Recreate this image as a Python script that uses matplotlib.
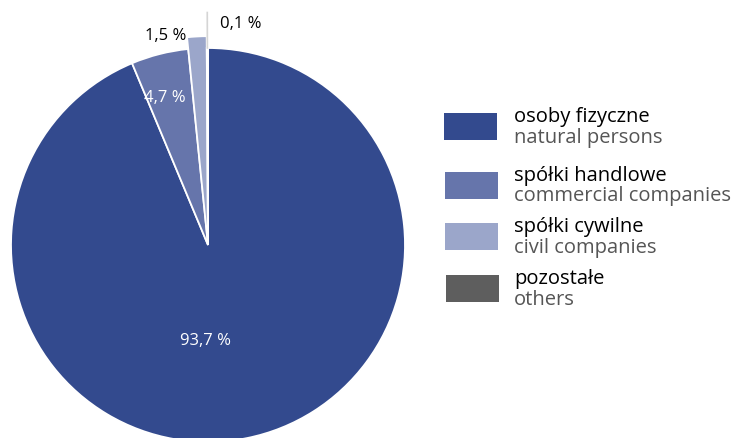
import numpy as np
import matplotlib
matplotlib.use("Agg")
import matplotlib.pyplot as plt
from matplotlib.patches import Rectangle

# data
labels_pl = ["osoby fizyczne", "spółki handlowe", "spółki cywilne", "pozostałe"]
labels_en = ["natural persons", "commercial companies", "civil companies", "others"]
shares = [93.7, 4.7, 1.5, 0.1]
share_text = ["93,7 %", "4,7 %", "1,5 %", "0,1 %"]
colors = ["#334a8e", "#6675ab", "#9ba6ca", "#5e5e5e"]

plt.rcParams['font.family'] = ['Open Sans', 'DejaVu Sans']

fig = plt.figure(figsize=(7.4, 4.39), dpi=100)
ax = fig.add_axes([0, 0, 1, 1])
ax.set_aspect("equal")
ax.axis("off")

cx, cy, r = 208, 193, 197
wedges, _ = ax.pie(shares, colors=colors, startangle=90, counterclock=False,
                   center=(cx, cy), radius=r,
                   wedgeprops=dict(edgecolor="white", linewidth=1.3))
ax.set_xlim(0, 740)
ax.set_ylim(0, 439)

# civil companies slice sticks out a little
wedges[2].set_radius(r * 1.06)

def mid(w):
    return np.deg2rad((w.theta1 + w.theta2) / 2)

# labels on the slices
ax.text(cx - 3, cy - 0.48 * r, share_text[0], color="white", fontsize=12,
        ha="center", va="center")
a = mid(wedges[1])
ax.text(cx + np.cos(a) * r * 0.76 - 6, cy + np.sin(a) * r * 0.76 + 3, share_text[1],
        color="white", fontsize=12, ha="center", va="center")
a = mid(wedges[2])
ax.text(cx + np.cos(a) * r * 1.07 - 10, cy + np.sin(a) * r * 1.07, share_text[2],
        color="black", fontsize=12, ha="right", va="center")
a = mid(wedges[3])
ax.plot([cx + np.cos(a) * r, cx + np.cos(a) * r * 1.18],
        [cy + np.sin(a) * r, cy + np.sin(a) * r * 1.18],
        color="#d5d5d5", lw=1.2)
ax.text(cx + 12, cy + r * 1.13 - 1, share_text[3], color="black", fontsize=12,
        ha="left", va="center")

# legend
box_y = [311.6, 253, 201.6, 149.6]
for i in range(4):
    ax.add_patch(Rectangle((444 + i * 0.7, box_y[i] - 13.5), 53, 27,
                           facecolor=colors[i], edgecolor="none"))
    ax.text(514, box_y[i] + 10.5, labels_pl[i], fontsize=14.5, color="black",
            ha="left", va="center")
    ax.text(514, box_y[i] - 10.5, labels_en[i], fontsize=14.5, color="#555555",
            ha="left", va="center")

fig.savefig("out.png", dpi=100)
